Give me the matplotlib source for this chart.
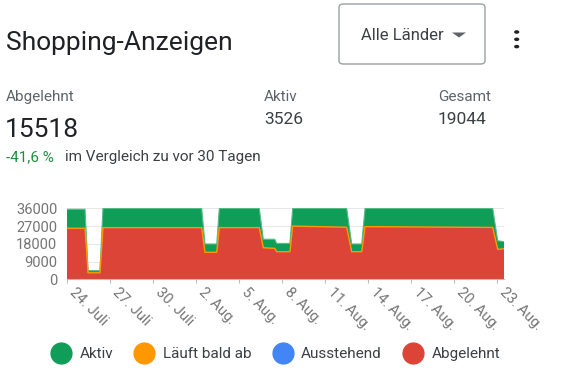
import matplotlib
matplotlib.use("Agg")
import matplotlib.pyplot as plt
from matplotlib.patches import FancyBboxPatch, Polygon, Circle
from matplotlib.lines import Line2D

plt.rcParams["font.family"] = ["Roboto", "DejaVu Sans"]

# Tage seit dem 24. Juli (Stuetzpunkte der Verlaeufe)
tage = [0, 1.26, 1.47, 2.30, 2.51, 9.40, 9.63, 10.45, 10.63, 13.42, 13.70,
        14.50, 14.63, 15.56, 15.75, 19.52, 19.87, 20.57, 20.80, 29.71, 30.06, 30.52]
abgelehnt = [25900, 25900, 3300, 3300, 26200, 26200, 13700, 13700, 26200, 26200, 16000,
             15700, 14000, 14000, 27000, 26400, 14000, 14000, 26700, 26300, 15200, 15518]
ausstehend = [0] * len(tage)
laeuft_bald_ab = [0] * len(tage)
aktiv = [9600, 9600, 1100, 1100, 9800, 9800, 4200, 4200, 9800, 9800, 4300,
         4600, 4200, 4200, 9000, 9600, 3900, 3900, 9300, 9700, 4370, 3526]

tick_tage = [0, 3, 6, 9, 12, 15, 18, 21, 24, 27, 30]
tick_labels = ["24. Juli", "27. Juli", "30. Juli", "2. Aug.", "5. Aug.", "8. Aug.",
               "11. Aug.", "14. Aug.", "17. Aug.", "20. Aug.", "23. Aug."]
y_ticks = [0, 9000, 18000, 27000, 36000]

serien = ["Aktiv", "Läuft bald ab", "Ausstehend", "Abgelehnt"]
farben = {"Aktiv": "#0f9d58", "Läuft bald ab": "#ff9800",
          "Ausstehend": "#4285f4", "Abgelehnt": "#db4437"}

wert_abgelehnt = "15518"
wert_aktiv = "3526"
wert_gesamt = "19044"
veraenderung = "-41,6 %"

W, H = 561, 382
fig = plt.figure(figsize=(W / 100, H / 100), dpi=100)


def px(x, y):
    return x / W, 1 - y / H


# Kopfbereich
fig.text(*px(6, 50), "Shopping-Anzeigen", fontsize=19, color="#202124", va="baseline")
box = FancyBboxPatch(px(339, 64), 146 / W, 60 / H, boxstyle="round,pad=0,rounding_size=0.008",
                     transform=fig.transFigure, fc="white", ec="#9aa0a6", lw=1)
fig.patches.append(box)
fig.text(*px(361, 40.5), "Alle Länder", fontsize=12, color="#3c4043", va="baseline")
fig.patches.append(Polygon([px(452, 32.5), px(466, 32.5), px(459, 37.5)], closed=True,
                           transform=fig.transFigure, fc="#5f6368", ec="none"))
for yy in (32, 39.3, 46.6):
    fig.patches.append(Circle(px(516.7, yy), 2.6 / W, transform=fig.transFigure,
                              fc="#202124", ec="none"))

fig.text(*px(5.5, 101), "Abgelehnt", fontsize=11, color="#5f6368", va="baseline")
fig.text(*px(5, 136.7), wert_abgelehnt, fontsize=19, color="#202124", va="baseline")
fig.text(*px(5.5, 161), veraenderung, fontsize=11, color="#1e8e3e", va="baseline")
fig.text(*px(65, 161), "im Vergleich zu vor 30 Tagen", fontsize=11, color="#3c4043", va="baseline")
fig.text(*px(264, 101), "Aktiv", fontsize=11, color="#5f6368", va="baseline")
fig.text(*px(264, 124), wert_aktiv, fontsize=12.5, color="#3c4043", va="baseline")
fig.text(*px(438, 101), "Gesamt", fontsize=11, color="#5f6368", va="baseline")
fig.text(*px(438, 124), wert_gesamt, fontsize=12.5, color="#3c4043", va="baseline")

# Flaechendiagramm
ax = fig.add_axes([67 / W, (H - 279.3) / H, (504.3 - 67) / W, 71 / H])
ax.stackplot(tage, abgelehnt, ausstehend, laeuft_bald_ab, aktiv,
             colors=[farben["Abgelehnt"], farben["Ausstehend"],
                     farben["Läuft bald ab"], farben["Aktiv"]], lw=0)
unten = [a + b + c for a, b, c in zip(abgelehnt, ausstehend, laeuft_bald_ab)]
oben = [u + d for u, d in zip(unten, aktiv)]
ax.plot(tage, oben, color="#57bb8a", lw=0.8)
ax.plot(tage, unten, color=farben["Läuft bald ab"], lw=1)
ax.set_xlim(tage[0], tage[-1])
ax.set_ylim(0, 36000)
ax.set_yticks(y_ticks)
ax.set_yticklabels([str(v) for v in y_ticks])
ax.set_xticks(tick_tage)
ax.set_xticklabels(tick_labels, rotation=-45, ha="left", va="top")
ax.tick_params(axis="y", length=0, pad=7, labelsize=10.5, labelcolor="#757575")
ax.tick_params(axis="x", length=3, width=0.8, color="#bdbdbd", pad=1,
               labelsize=10.5, labelcolor="#757575")
ax.grid(axis="y", color="#e8e8e8", lw=0.8)
ax.set_axisbelow(True)
for s in ("top", "right", "left"):
    ax.spines[s].set_visible(False)
ax.spines["bottom"].set_color("#bdbdbd")
ax.spines["bottom"].set_linewidth(0.8)
ax.spines["bottom"].set_zorder(5)

# Legende
handles = [Line2D([], [], ls="", marker="o", markersize=15, color=farben[s]) for s in serien]
fig.legend(handles, serien, loc="center", bbox_to_anchor=px(276, 354), ncol=4,
           frameon=False, fontsize=11, labelcolor="#3c4043", handlelength=1.2,
           handletextpad=0.6, columnspacing=1.45)

fig.savefig("out.png", dpi=100, facecolor="white")
